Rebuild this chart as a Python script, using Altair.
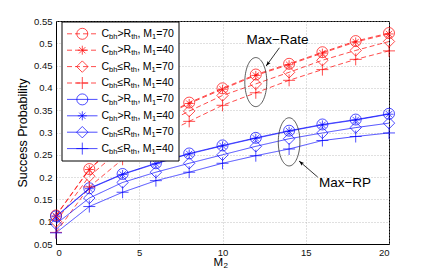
import altair as alt
import pandas as pd
import numpy as np

# ---------------- data ----------------
m2 = [0, 2, 4, 6, 8, 10, 12, 14, 16, 18, 20]

red_gt_70 = [0.114, 0.218, 0.285, 0.330, 0.367, 0.399, 0.430, 0.454, 0.480, 0.505, 0.523]
red_gt_40 = [0.113, 0.217, 0.283, 0.328, 0.365, 0.397, 0.428, 0.452, 0.478, 0.503, 0.521]
red_le_70 = [0.100, 0.202, 0.265, 0.310, 0.348, 0.383, 0.409, 0.435, 0.462, 0.484, 0.504]
red_le_40 = [0.076, 0.178, 0.240, 0.288, 0.325, 0.361, 0.389, 0.417, 0.441, 0.464, 0.483]

blue_gt_70 = [0.112, 0.175, 0.207, 0.231, 0.253, 0.271, 0.288, 0.304, 0.318, 0.329, 0.342]
blue_gt_40 = [0.111, 0.174, 0.206, 0.230, 0.252, 0.270, 0.287, 0.303, 0.317, 0.328, 0.341]
blue_le_70 = [0.095, 0.153, 0.188, 0.211, 0.231, 0.250, 0.269, 0.286, 0.299, 0.311, 0.321]
blue_le_40 = [0.075, 0.134, 0.166, 0.192, 0.211, 0.231, 0.248, 0.263, 0.282, 0.291, 0.299]

series_names = ["red_gt_70", "red_gt_40", "red_le_70", "red_le_40",
                "blue_gt_70", "blue_gt_40", "blue_le_70", "blue_le_40"]
series_vals = [red_gt_70, red_gt_40, red_le_70, red_le_40,
               blue_gt_70, blue_gt_40, blue_le_70, blue_le_40]
series_grp = ["red"] * 4 + ["blue"] * 4
series_marker = ["circle", "star", "diamond", "plus"] * 2
legend_rel = [">", ">", "≤", "≤"] * 2
legend_m1 = ["70", "40", "70", "40"] * 2

x_ticks = [0, 5, 10, 15, 20]
y_ticks = [0.05, 0.1, 0.15, 0.2, 0.25, 0.3, 0.35, 0.4, 0.45, 0.5, 0.55]

# ---------------- layout helpers ----------------
W, H = 333, 223
X_PER_PX = 20 / W
Y_PER_PX = 0.5 / H
FONT = "Liberation Sans"

rows = []
for name, vals, grp, mk in zip(series_names, series_vals, series_grp, series_marker):
    for x, v in zip(m2, vals):
        rows.append(dict(M2=x, P=v, grp=grp, marker=mk, series=name))
df = pd.DataFrame(rows)

xs = alt.Scale(domain=[0, 20], nice=False, zero=False)
ys = alt.Scale(domain=[0.05, 0.55], nice=False, zero=False)
xaxis = alt.Axis(values=x_ticks, title=None, grid=True, ticks=False,
                 labelPadding=3, format="d")
yaxis = alt.Axis(values=y_ticks, title="Success Probability", grid=True,
                 ticks=False, labelPadding=4, format="~g", titlePadding=4)


def X(f="M2"):
    return alt.X(f + ":Q", scale=xs, axis=xaxis)


def Y(f="P"):
    return alt.Y(f + ":Q", scale=ys, axis=yaxis)


color = alt.Color("grp:N", scale=alt.Scale(domain=["red", "blue"],
                                           range=["#ff0000", "#0000ff"]), legend=None)
dash = alt.StrokeDash("grp:N", scale=alt.Scale(domain=["red", "blue"],
                                               range=[[5, 3], [1, 0]]), legend=None)

shapes = {
    "circle": ("circle", 121),
    "star": ("M0,-1L0,1M-1,0L1,0M-0.7,-0.7L0.7,0.7M-0.7,0.7L0.7,-0.7", 81),
    "diamond": ("diamond", 130),
    "plus": ("M0,-1L0,1M-1,0L1,0", 144),
}

lines = alt.Chart(df).mark_line(strokeWidth=0.7).encode(
    x=X(), y=Y(), color=color, strokeDash=dash, detail="series:N")

point_layers = []
for mk, (shp, sz) in shapes.items():
    point_layers.append(
        alt.Chart(df).transform_filter(alt.datum.marker == mk)
        .mark_point(shape=shp, size=sz, filled=False, strokeWidth=0.7, opacity=1)
        .encode(x=X(), y=Y(), color=color)
    )

# ---------------- legend (drawn through the same scales) ----------------
leg_x0 = 6.0      # px from plot left
leg_x1 = 123.0
leg_top = 1.0
leg_bot = 140.0
row0 = 12.8
row_step = 16.4

box = pd.DataFrame([dict(M2=leg_x0 * X_PER_PX, M2b=leg_x1 * X_PER_PX,
                         P=0.55 - leg_top * Y_PER_PX, Pb=0.55 - leg_bot * Y_PER_PX)])
legend_box = alt.Chart(box).mark_rect(fill="white", stroke="black", strokeWidth=1).encode(
    x=X(), x2="M2b:Q", y=Y(), y2="Pb:Q")

leg_rows = []
for i, (name, grp, mk) in enumerate(zip(series_names, series_grp, series_marker)):
    py = 0.55 - (row0 + i * row_step) * Y_PER_PX
    leg_rows.append(dict(M2=11 * X_PER_PX, M2b=41.5 * X_PER_PX,
                         Mm=26.3 * X_PER_PX, P=py, grp=grp, marker=mk))
leg_df = pd.DataFrame(leg_rows)

legend_lines = alt.Chart(leg_df).mark_rule(strokeWidth=0.7).encode(
    x=X(), x2="M2b:Q", y=Y(), color=color, strokeDash=dash)

legend_points = []
for mk, (shp, sz) in shapes.items():
    legend_points.append(
        alt.Chart(leg_df).transform_filter(alt.datum.marker == mk)
        .mark_point(shape=shp, size=sz, filled=False, strokeWidth=0.7, opacity=1)
        .encode(x=X("Mm"), y=Y(), color=color)
    )

ARIAL = {"C": .722, "b": .556, "h": .556, ">": .584, "≤": .549, "R": .722,
         "t": .278, ",": .278, " ": .278, "M": .833, "1": .556, "=": .584,
         "7": .556, "0": .556, "4": .556}


def tw(s, size):
    return sum(ARIAL.get(c, .556) for c in s) * size


S_MAIN, S_SUB = 10.5, 7.5
pieces = []
for i, (rel, m1) in enumerate(zip(legend_rel, legend_m1)):
    py = 0.55 - (row0 + i * row_step) * Y_PER_PX
    parts = [("C", False), ("bh", True), (rel + "R", False), ("th", True),
             (", M", False), ("1", True), ("=" + m1, False)]
    xpx = 45.5
    for txt, sub in parts:
        pieces.append(dict(M2=xpx * X_PER_PX,
                           P=py - (3.2 * Y_PER_PX if sub else 0),
                           txt=txt, sub=sub))
        xpx += tw(txt, S_SUB if sub else S_MAIN)
pc = pd.DataFrame(pieces)

legend_main = alt.Chart(pc).transform_filter(alt.datum.sub == False).mark_text(
    align="left", baseline="middle", font=FONT, fontSize=S_MAIN, color="black"
).encode(x=X(), y=Y(), text="txt:N")
legend_sub = alt.Chart(pc).transform_filter(alt.datum.sub == True).mark_text(
    align="left", baseline="middle", font=FONT, fontSize=S_SUB, color="black"
).encode(x=X(), y=Y(), text="txt:N")

# ---------------- annotations ----------------
ell_centers = [(12.0, 0.413, 0.66, 0.055), (14.0, 0.279, 0.65, 0.054)]
ell_rows = []
for k, (cx, cy, ax_, ay_) in enumerate(ell_centers):
    for j, t in enumerate(np.linspace(0, 2 * np.pi, 73)):
        ell_rows.append(dict(M2=cx + ax_ * np.cos(t), P=cy + ay_ * np.sin(t), e=k, o=j))
ell_df = pd.DataFrame(ell_rows)
ellipses = alt.Chart(ell_df).mark_line(color="#333333", strokeWidth=0.8).encode(
    x=X(), y=Y(), detail="e:N", order="o:Q")

arrows_df = pd.DataFrame([
    dict(M2=13.42, P=0.490, M2b=12.62, Pb=0.449, ang=217),
    dict(M2=15.72, P=0.200, M2b=14.60, Pb=0.236, ang=311),
])
arrow_lines = alt.Chart(arrows_df).mark_rule(color="black", strokeWidth=0.8).encode(
    x=X(), x2="M2b:Q", y=Y(), y2="Pb:Q")
arrow_heads = alt.Chart(arrows_df).mark_point(
    shape="M0,0L0.6,1.7L0,1.35L-0.6,1.7Z", size=36, filled=True, color="black", opacity=1
).encode(x=X("M2b"), y=Y("Pb"), angle=alt.Angle("ang:Q", scale=None))

labels_df = pd.DataFrame([
    dict(M2=13.3, P=0.507, txt="Max−Rate"),
    dict(M2=17.36, P=0.186, txt="Max−RP"),
])
ann_text = alt.Chart(labels_df).mark_text(
    font=FONT, fontSize=13.5, color="black", baseline="middle", align="center"
).encode(x=X(), y=Y(), text="txt:N")

# ---------------- x title (M with subscript 2) ----------------
dummy = pd.DataFrame({"a": [0]})
xt_main = alt.Chart(dummy).mark_text(
    font=FONT, fontSize=11.5, align="left", baseline="alphabetic", color="black"
).encode(x=alt.value(157.5), y=alt.value(245), text=alt.value("M"))
xt_sub = alt.Chart(dummy).mark_text(
    font=FONT, fontSize=8, align="left", baseline="alphabetic", color="black"
).encode(x=alt.value(167.5), y=alt.value(246.5), text=alt.value("2"))

chart = alt.layer(
    lines, *point_layers, legend_box, legend_lines, *legend_points,
    legend_main, legend_sub, ellipses, arrow_lines, arrow_heads, ann_text,
    xt_main, xt_sub
).properties(
    width=W, height=H,
    autosize=alt.AutoSizeParams(type="none"),
    padding={"left": 48, "top": 13, "right": 28, "bottom": 25},
).configure_view(
    stroke="black", strokeWidth=1
).configure_axis(
    labelFont=FONT, labelFontSize=9.5, labelColor="#111111",
    titleFont=FONT, titleFontSize=12.5, titleColor="black", titleFontWeight="normal",
    domainColor="black", domainWidth=1,
    gridColor="#b0b0b0", gridDash=[1, 2], gridWidth=0.8,
)

chart.save("out.html", embed_options={"renderer": "svg", "actions": False})
